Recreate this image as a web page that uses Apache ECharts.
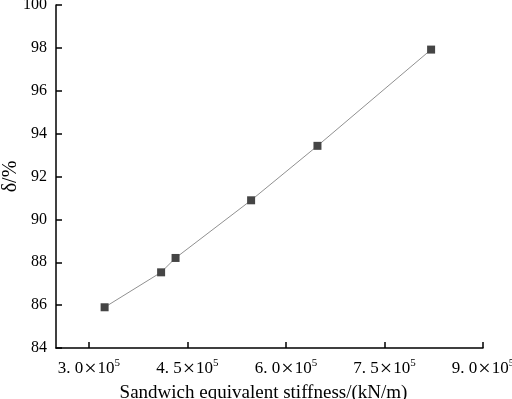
<!DOCTYPE html>
<html>
<head>
<meta charset="utf-8">
<script src="https://cdn.jsdelivr.net/npm/echarts@6/dist/echarts.min.js"></script>
<style>html,body{margin:0;padding:0;background:#fff}#c{width:512px;height:399px}</style>
</head>
<body>
<div id="c"></div>
<script>
var stiffness = [324000, 410000, 432000, 547000, 648000, 821000];
var delta = [85.9, 87.53, 88.2, 90.89, 93.43, 97.92];
var xTickValues = [300000, 450000, 600000, 750000, 900000];
var xTickLabels = ['3. 0', '4. 5', '6. 0', '7. 5', '9. 0'];

var chart = echarts.init(document.getElementById('c'));
var font = '"Liberation Serif", "DejaVu Serif", serif';
chart.setOption({
  animation: false,
  grid: {left: 56, right: 29, top: 5, bottom: 51, containLabel: false, outerBoundsMode: 'none'},
  xAxis: {
    type: 'value', min: 250000, max: 900000,
    name: 'Sandwich equivalent stiffness/(kN/m)',
    nameLocation: 'middle', nameGap: 36, nameMoveOverlap: false,
    nameTextStyle: {fontFamily: font, fontSize: 19, color: '#000', padding: [0, 12, 0, 0]},
    axisLine: {show: true, lineStyle: {color: '#000', width: 1.5}},
    axisTick: {show: true, inside: true, length: 6, customValues: xTickValues, lineStyle: {color: '#000', width: 1.5}},
    axisLabel: {
      customValues: xTickValues, margin: 10, hideOverlap: false,
      formatter: function (v) {
        var i = xTickValues.indexOf(v);
        return '{a|' + xTickLabels[i] + '}{x|×}{a|10}{b|5}';
      },
      rich: {
        a: {fontFamily: font, fontSize: 17, color: '#000'},
        x: {fontFamily: font, fontSize: 22, color: '#000', padding: [0, 1, 0, 1]},
        b: {fontFamily: font, fontSize: 11, color: '#000', verticalAlign: 'top', padding: [0, 0, 9, 0]}
      }
    },
    splitLine: {show: false}
  },
  yAxis: {
    type: 'value', min: 84, max: 100, interval: 2,
    name: 'δ/%', nameLocation: 'middle', nameGap: 35, nameRotate: 90, nameMoveOverlap: false,
    nameTextStyle: {fontFamily: font, fontSize: 20, color: '#000'},
    axisLine: {show: true, lineStyle: {color: '#000', width: 1.5}},
    axisTick: {show: true, inside: true, length: 6, lineStyle: {color: '#000', width: 1.5}},
    axisLabel: {fontFamily: font, fontSize: 16, color: '#000', margin: 9},
    splitLine: {show: false}
  },
  series: [{
    type: 'line',
    data: stiffness.map(function (x, i) { return [x, delta[i]]; }),
    symbol: 'rect', symbolSize: 8,
    itemStyle: {color: '#454545'},
    lineStyle: {color: '#909090', width: 1}
  }]
});
</script>
</body>
</html>
